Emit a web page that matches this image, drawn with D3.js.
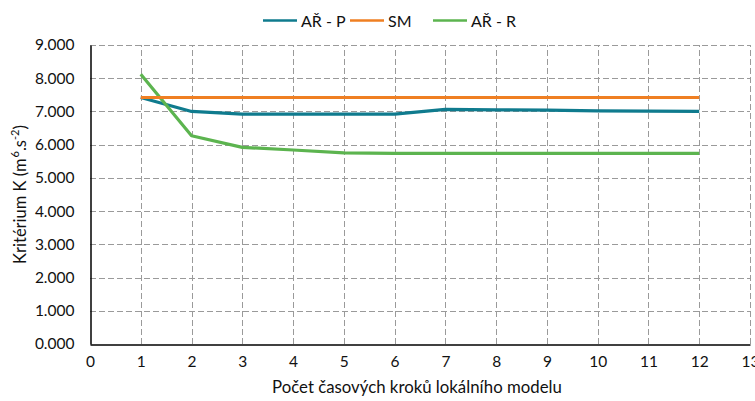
<!DOCTYPE html>
<html>
<head>
<meta charset="utf-8">
<script src="https://cdn.jsdelivr.net/npm/d3@7"></script>
<style>
  html, body { margin: 0; padding: 0; background: #fff; }
  svg { display: block; font-family: "Lato", "Noto Sans", sans-serif; }
</style>
</head>
<body>
<svg id="chart" width="755" height="401"></svg>
<script>
// Number of local-model time steps
const steps = [1, 2, 3, 4, 5, 6, 7, 8, 9, 10, 11, 12];
// Criterion K values per series
const arP = [7.42, 7.00, 6.92, 6.92, 6.92, 6.92, 7.06, 7.05, 7.04, 7.02, 7.01, 7.00];
const sm  = [7.42, 7.42, 7.42, 7.42, 7.42, 7.42, 7.42, 7.42, 7.42, 7.42, 7.42, 7.42];
const arR = [8.12, 6.27, 5.92, 5.84, 5.75, 5.74, 5.74, 5.74, 5.74, 5.74, 5.74, 5.74];
const seriesNames = ["AŘ - P", "SM", "AŘ - R"];
const seriesColors = ["#0f7b8e", "#ef7f22", "#5cb44f"];
const xTicks = d3.range(0, 14);
const yTicks = d3.range(0, 10);

const svg = d3.select("#chart");
const m = { left: 90, right: 5, top: 45, bottom: 57 };
const W = 755, H = 401;

const x = d3.scaleLinear().domain([0, 13]).range([m.left, W - m.right]);
const y = d3.scaleLinear().domain([0, 9]).range([H - m.bottom, m.top]);

// Dashed grid
const grid = svg.append("g").attr("stroke", "#9a9a9a").attr("stroke-width", 1)
  .attr("stroke-dasharray", "6,3");
grid.selectAll("line.h").data(yTicks.filter(d => d > 0)).join("line")
  .attr("x1", m.left).attr("x2", x(13))
  .attr("y1", d => Math.round(y(d)) + 0.5).attr("y2", d => Math.round(y(d)) + 0.5);
grid.selectAll("line.v").data(xTicks.filter(d => d > 0)).join("line")
  .attr("y1", y(0)).attr("y2", y(9))
  .attr("x1", d => Math.round(x(d)) + 0.5).attr("x2", d => Math.round(x(d)) + 0.5);

// Axes
const fontSize = 15.5;
const yAxis = d3.axisLeft(y).tickValues(yTicks).tickSize(0).tickPadding(16)
  .tickFormat(d => d3.format(".3f")(d));
const gy = svg.append("g").attr("transform", `translate(${m.left + 0.5},0)`).call(yAxis);
gy.select(".domain").attr("stroke", "#000").attr("stroke-width", 1.5);
gy.selectAll("text").attr("font-size", fontSize).attr("fill", "#111")
  .attr("font-family", "Lato, 'Noto Sans', sans-serif");

const xAxis = d3.axisBottom(x).tickValues(xTicks).tickSize(0).tickPadding(11)
  .tickFormat(d3.format("d"));
const gx = svg.append("g").attr("transform", `translate(0,${Math.round(y(0)) + 0.5})`).call(xAxis);
gx.select(".domain").attr("stroke", "#000").attr("stroke-width", 1.5);
gx.selectAll("text").attr("font-size", fontSize).attr("fill", "#111")
  .attr("font-family", "Lato, 'Noto Sans', sans-serif");

// Axis titles
svg.append("text")
  .attr("x", x(6.5) - 3).attr("y", 393)
  .attr("text-anchor", "middle").attr("font-size", 16.8).attr("fill", "#111")
  .text("Počet časových kroků lokálního modelu");

const yt = svg.append("text")
  .attr("transform", `translate(26,${y(4.5)}) rotate(-90)`)
  .attr("text-anchor", "middle").attr("font-size", 16.5).attr("fill", "#111");
yt.append("tspan").text("Kritérium K (m");
yt.append("tspan").attr("dx", 1).attr("dy", -7).attr("font-size", 11).text("6");
yt.append("tspan").attr("dy", 7).text(".s");
yt.append("tspan").attr("dy", -7).attr("font-size", 11).text("-2");
yt.append("tspan").attr("dy", 7).text(")");

// Series lines
const data = [arP, sm, arR];
const line = d3.line().x((d, i) => x(steps[i])).y(d => y(d));
const drawOrder = [0, 2, 1];
drawOrder.forEach(k => {
  svg.append("path").datum(data[k])
    .attr("fill", "none").attr("stroke", seriesColors[k])
    .attr("stroke-width", 3.2).attr("stroke-linejoin", "round")
    .attr("d", line);
});

// Legend
const legendX = [263, 350, 433];
const lg = svg.append("g");
seriesNames.forEach((name, i) => {
  lg.append("line").attr("x1", legendX[i]).attr("x2", legendX[i] + 34)
    .attr("y1", 20.5).attr("y2", 20.5)
    .attr("stroke", seriesColors[i]).attr("stroke-width", 2.5);
  lg.append("text").attr("x", legendX[i] + 38).attr("y", 26.5)
    .attr("font-size", 16).attr("fill", "#111").text(name);
});
</script>
</body>
</html>
